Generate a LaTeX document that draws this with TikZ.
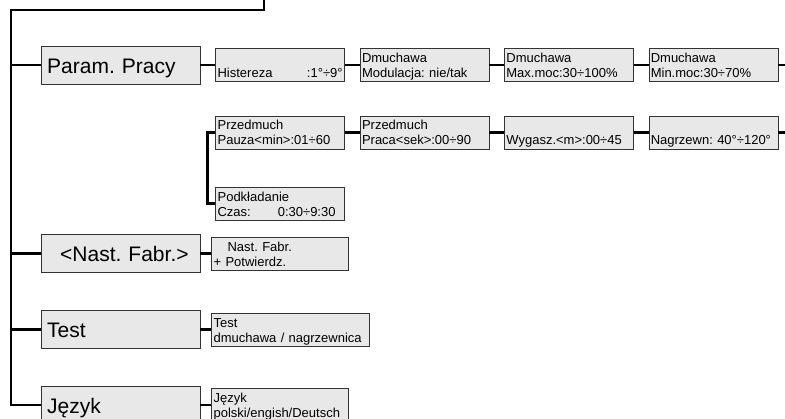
\documentclass[tikz,border=0pt]{standalone}
\usepackage{fontspec}
\setmainfont{Liberation Sans}
\usepackage{tikz}
\usetikzlibrary{positioning}
\frenchspacing
\tikzstyle{menu} = [rectangle, draw=black!80, fill=black!9, font=\fontsize{21}{24}\selectfont, minimum width=159pt, minimum height=38pt, text width=147pt, inner xsep=6pt, inner ysep=0pt, align=left, execute at begin node={\rule{0pt}{21pt}}, execute at end node={\rule[-5pt]{0pt}{5pt}}]
\tikzstyle{opt} = [rectangle, draw=black!80, fill=black!9, font=\fontsize{13}{15}\selectfont, minimum height=33pt, text width=125pt, inner xsep=2pt, inner ysep=0pt, align=left, execute at begin node={\rule{0pt}{13pt}}, execute at end node={\rule[-3pt]{0pt}{3pt}}]
\tikzstyle{line} = [draw, line width=2.7pt]

\begin{document}
\begin{tikzpicture}[x=1pt, y=-1pt, node distance=15pt]
    \clip (0,0) rectangle (785,418);
    % main menu
    \node (param) [menu, anchor=west] at (41,65) {Param. Pracy};
    \node (fabr) [menu, anchor=west] at (41,253.5) {\hspace*{13pt}<Nast. Fabr.>};
    \node (test) [menu, anchor=west] at (41,329.5) {Test};
    \node (jezyk) [menu, anchor=west] at (41,405) {Język};

    % Param. Pracy, first row
    \node (hister) [opt, right=of param] {\\Histereza\hfill:1°÷9°};
    \node (modul) [opt, right=of hister] {Dmuchawa\\Modulacja: nie/tak};
    \node (maxmoc) [opt, right=of modul] {Dmuchawa\\Max.moc:30÷100\%};
    \node (minmoc) [opt, right=of maxmoc] {Dmuchawa\\Min.moc:30÷70\%};

    % second row
    \node (pauza) [opt, below=34pt of hister] {Przedmuch\\Pauza<min>:01÷60};
    \node (praca) [opt, right=of pauza] {Przedmuch\\Praca<sek>:00÷90};
    \node (wygasz) [opt, right=of praca] {\\Wygasz.<m>:00÷45};
    \node (nagrz) [opt, right=of wygasz] {\\Nagrzewn: 40°÷120°};
    \node (podklad) [opt, below=38pt of pauza] {Podkładanie\\Czas:\hspace{27pt}0:30÷9:30};

    % other menus
    \node (fabrok) [opt, right=11pt of fabr, text width=133pt] {\hspace*{14pt}Nast. Fabr.\\+ Potwierdz.};
    \node (testsel) [opt, right=11pt of test, text width=154pt] {Test\\dmuchawa / nagrzewnica};
    \node (langsel) [opt, right=11pt of jezyk, text width=133pt] {Język\\polski/engish/Deutsch};

    \coordinate (root) at (264,-2);
    \coordinate (trunk) at (11,10);
    \coordinate (edge) at (790,0);

    \path [line] (root) |- (trunk) |- (jezyk.west);
    \path [line] (param.west) -- (param.west -| trunk);
    \path [line] (fabr.west) -- (fabr.west -| trunk);
    \path [line] (test.west) -- (test.west -| trunk);

    \path [line] (param) -- (hister);
    \path [line] (hister) -- (modul);
    \path [line] (modul) -- (maxmoc);
    \path [line] (maxmoc) -- (minmoc);
    \path [line] (minmoc.east) -- (minmoc.east -| edge);

    \path [line] (pauza) -- (praca);
    \path [line] (praca) -- (wygasz);
    \path [line] (wygasz) -- (nagrz);
    \path [line] (nagrz.east) -- (nagrz.east -| edge);
    \path [line] (pauza.west) -- ++(-8,0) |- (podklad.west);

    \path [line] (fabr) -- (fabrok);
    \path [line] (test) -- (testsel);
    \path [line] (jezyk) -- (langsel);

\end{tikzpicture}
\end{document}
